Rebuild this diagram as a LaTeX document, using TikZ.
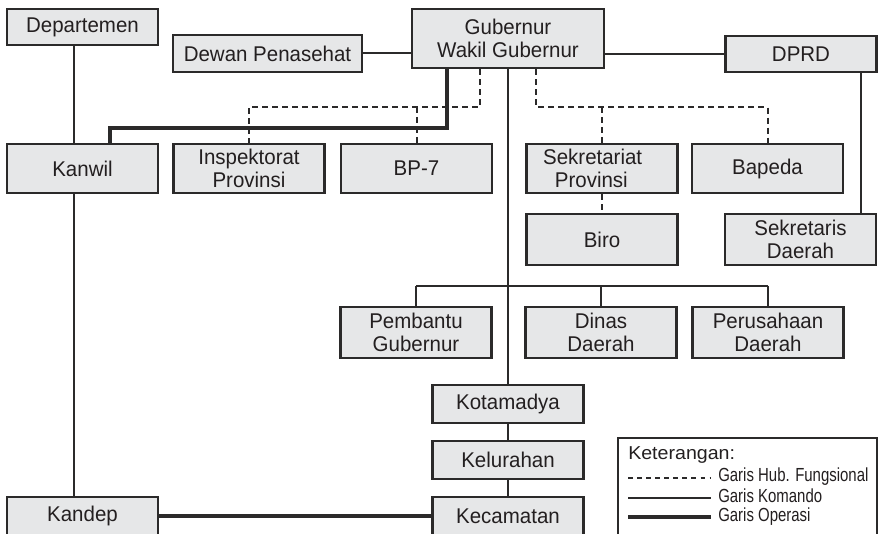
\documentclass[tikz,border=0pt]{standalone}
\usepackage{fontspec}
\setmainfont{Liberation Sans}[FakeStretch=0.96]
\newfontfamily\legendfont{Liberation Sans}[FakeStretch=0.79]
\newfontfamily\legendtitlefont{Liberation Sans}[FakeStretch=1.05]
\newcommand\pxu{0.75pt}
\definecolor{boxfill}{HTML}{E6E7E8}
\definecolor{ink}{HTML}{2B2A2A}
\definecolor{txt}{HTML}{231F20}
\begin{document}
\begin{tikzpicture}[x=0.75pt,y=-0.75pt,
  unit/.style={draw=ink, fill=boxfill, line width=1.6pt, inner sep=0pt,
    text=txt, align=center, font=\fontsize{16}{17.6}\selectfont},
  wbox/.style={unit, minimum width=151*\pxu},
  komando/.style={draw=ink, line width=1.5pt},
  operasi/.style={draw=ink, line width=3.6pt},
  fungsi/.style={draw=ink, line width=1.5pt, dash pattern=on 4.5pt off 3pt},
  legtext/.style={anchor=base west, inner sep=0pt, text=txt, font=\legendfont\fontsize{14.2}{15}\selectfont}]
\useasboundingbox (0,0) rectangle (883,534);
\fill[white] (0,0) rectangle (883,534);
\clip (0,0) rectangle (883,534);

% top row
\node[wbox, minimum height=36*\pxu] (dep) at (82.5,27) {Departemen};
\node[unit, minimum width=189*\pxu, minimum height=37*\pxu] (dewan) at (267.5,53.5) {Dewan Penasehat};
\node[unit, minimum width=192*\pxu, minimum height=59*\pxu] (gub) at (508,38.5) {Gubernur\\Wakil Gubernur};
\node[wbox, minimum height=36*\pxu] (dprd) at (801,54) {DPRD};

% second row
\node[wbox, minimum height=49*\pxu] (kanwil) at (82.5,168.5) {Kanwil};
\node[wbox, minimum height=49*\pxu] (insp) at (249,168.5) {Inspektorat\\Provinsi};
\node[wbox, minimum height=49*\pxu] (bp7) at (416.5,168.5) {BP-7};
\node[wbox, minimum height=49*\pxu] (sekprov) at (602,168.5) {Sekretariat\kern14pt\\Provinsi\kern16pt};
\node[wbox, minimum height=49*\pxu] (bapeda) at (767.5,168.5) {Bapeda};

% third row
\node[wbox, minimum height=51*\pxu] (biro) at (602,239.5) {Biro};
\node[wbox, minimum height=51*\pxu] (sekda) at (800.5,239.5) {Sekretaris\\Daerah};

% fourth row
\node[wbox, minimum height=51*\pxu] (pemb) at (416,332.5) {Pembantu\\Gubernur};
\node[wbox, minimum height=51*\pxu] (dinas) at (601,332.5) {Dinas\\Daerah};
\node[wbox, minimum height=51*\pxu] (perus) at (768,332.5) {Perusahaan\\Daerah};

% regional chain
\node[wbox, minimum height=38*\pxu] (kota) at (508,404) {Kotamadya};
\node[wbox, minimum height=38*\pxu] (kel) at (508,460) {Kelurahan};
\node[wbox, minimum height=38*\pxu] (kec) at (508,516) {Kecamatan};
\node[wbox, minimum height=38*\pxu] (kandep) at (82.5,516) {Kandep};

% helper coordinates for connector routing
\coordinate (kl) at (74,0);
\coordinate (sd) at (861,0);
\coordinate (fl) at (480,107);
\coordinate (fr) at (536,107);
\coordinate (ol) at (447,128);
\coordinate (ok) at (110,128);
\coordinate (kb) at (508,286);
\coordinate (ko) at (0,516);

% command lines
\draw[komando] (dewan.east) -- (dewan.east -| gub.west);
\draw[komando] (gub.east |- dprd.west) -- (dprd.west);
\draw[komando] (dep.south -| kl) -- (kanwil.north -| kl);
\draw[komando] (kanwil.south -| kl) -- (kandep.north -| kl);
\draw[komando] (dprd.south -| sd) -- (sekda.north -| sd);
\draw[komando] (gub.south) -- (kota.north);
\draw[komando] (pemb.north |- kb) -- (perus.north |- kb);
\draw[komando] (pemb.north |- kb) -- (pemb.north);
\draw[komando] (dinas.north |- kb) -- (dinas.north);
\draw[komando] (perus.north |- kb) -- (perus.north);
\draw[komando] (kota.south) -- (kel.north);
\draw[komando] (kel.south) -- (kec.north);

% functional lines
\draw[fungsi] (gub.south -| fl) |- (insp.north |- fl) -- (insp.north);
\draw[fungsi] (bp7.north |- fl) -- (bp7.north);
\draw[fungsi] (gub.south -| fr) |- (bapeda.north |- fr) -- (bapeda.north);
\draw[fungsi] (sekprov.north |- fr) -- (sekprov.north);
\draw[fungsi] (sekprov.south) -- (biro.north);

% operation lines
\draw[operasi] (gub.south -| ol) |- (ok) -- (kanwil.north -| ok);
\draw[operasi] (kandep.east |- ko) -- (kec.west |- ko);

% legend
\node[draw=ink, fill=white, line width=1.5pt, minimum width=259*\pxu, minimum height=107*\pxu, inner sep=0pt] (legend) at (747.5,491.5) {};
\node[legtext, font=\legendtitlefont\fontsize{14}{15}\selectfont] (legtitle) at (628,460) {Keterangan:};
\coordinate (la) at (628,478);
\coordinate (lb) at (711,478);
\coordinate (lc) at (628,498);
\coordinate (ld) at (711,498);
\coordinate (le) at (628,517);
\coordinate (lf) at (711,517);
\draw[draw=ink, line width=1.4pt, dash pattern=on 3.4pt off 3.4pt] (la) -- (lb);
\draw[komando] (lc) -- (ld);
\draw[draw=ink, line width=3.4pt] (le) -- (lf);
\node[legtext] (lfung) at (718,482) {Garis Hub. Fungsional};
\node[legtext] (lkom) at (718,503) {Garis Komando};
\node[legtext] (lop) at (718,522) {Garis Operasi};
\end{tikzpicture}
\end{document}
